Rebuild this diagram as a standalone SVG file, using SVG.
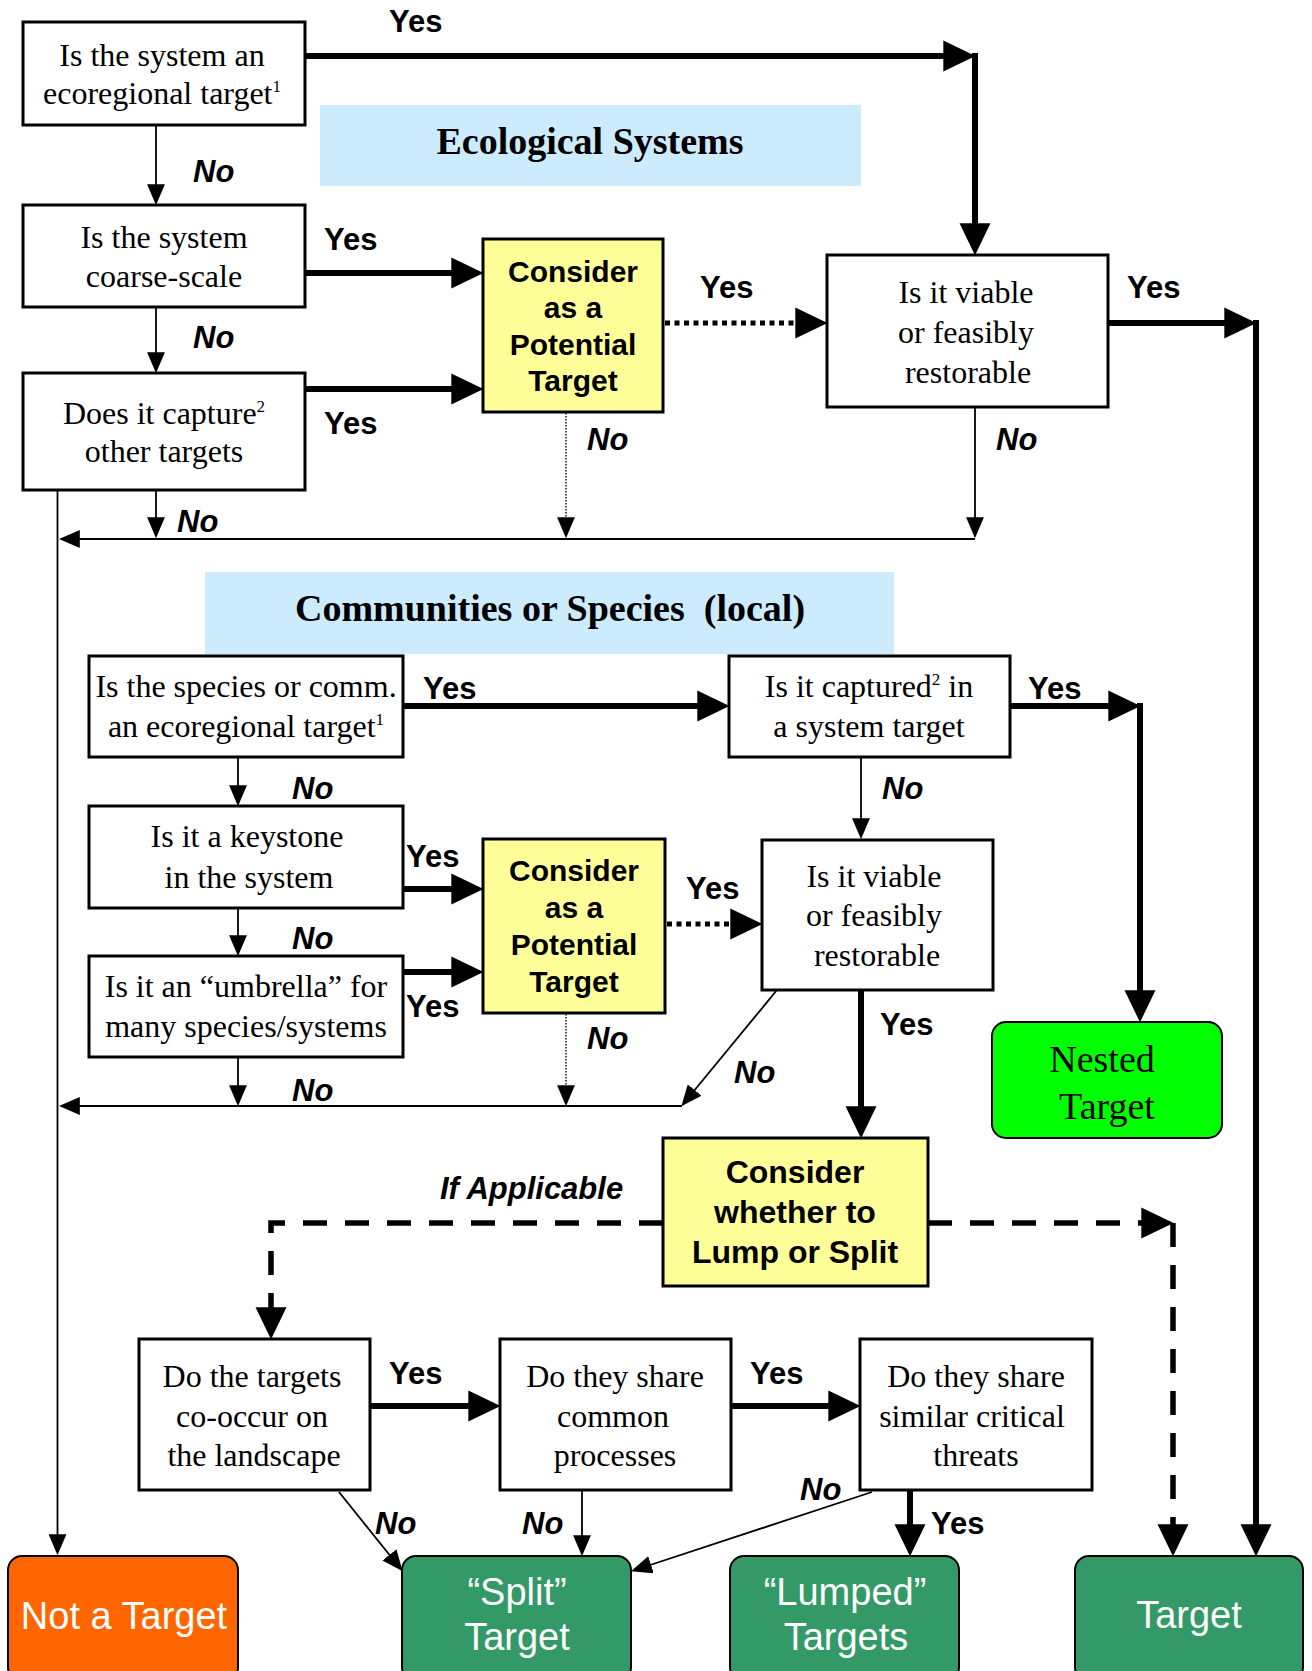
<svg xmlns="http://www.w3.org/2000/svg" width="1312" height="1671" viewBox="0 0 1312 1671">
<defs>
<style>
.box{fill:#fff;stroke:#000;stroke-width:3}
.yel{fill:#FFFF99;stroke:#000;stroke-width:3}
.title{fill:#CCEBFC;stroke:none}
.term{stroke:#000;stroke-width:2}
.q{font-family:"Liberation Serif","Times New Roman",serif;font-size:32px;fill:#000;text-anchor:middle}
.tt{font-family:"Liberation Serif","Times New Roman",serif;font-size:38px;font-weight:bold;fill:#000;text-anchor:middle}
.yt{font-family:"Liberation Sans",Arial,sans-serif;font-size:30px;font-weight:bold;fill:#000;text-anchor:middle}
.wt{font-family:"Liberation Sans",Arial,sans-serif;font-size:38px;fill:#fff;text-anchor:middle}
.yes{font-family:"Liberation Sans",Arial,sans-serif;font-size:31px;font-weight:bold;fill:#000}
.no{font-family:"Liberation Sans",Arial,sans-serif;font-size:31px;font-weight:bold;font-style:italic;fill:#000}
.thick{fill:none;stroke:#000;stroke-width:6;marker-end:url(#hb)}
.dot{fill:none;stroke:#000;stroke-width:5;stroke-dasharray:5 4.5;marker-end:url(#hb)}
.dash{fill:none;stroke:#000;stroke-width:5.5;stroke-dasharray:24 18;marker-end:url(#hb)}
.thin{fill:none;stroke:#000;stroke-width:1.8;marker-end:url(#hs)}
.tdot{fill:none;stroke:#000;stroke-width:1.4;stroke-dasharray:1.5 1.5;marker-end:url(#hs)}
</style>
<marker id="hb" markerUnits="userSpaceOnUse" markerWidth="32" markerHeight="32" viewBox="0 0 31 30" refX="21" refY="15" orient="auto">
<path d="M0,0 L31,15 L0,30 z" fill="#000"/>
</marker>
<marker id="hs" markerUnits="userSpaceOnUse" markerWidth="21" markerHeight="18" viewBox="0 0 20 17" refX="16" refY="8.5" orient="auto">
<path d="M0,0 L20,8.5 L0,17 z" fill="#000"/>
</marker>
</defs>

<g id="title-ecological">
<rect class="title" x="320" y="105" width="541" height="81"/>
<text class="tt" x="590" y="154">Ecological Systems</text>
</g>
<g id="title-communities">
<rect class="title" x="205" y="572" width="689" height="82"/>
<text class="tt" x="550" y="621">Communities or Species&#160; (local)</text>
</g>

<g id="connectors">
<path class="thick" d="M305,56 H965"/>
<path class="thick" d="M975,53 V245"/>
<path class="thick" d="M305,273 H473"/>
<path class="thick" d="M305,389 H473"/>
<path class="thick" d="M1108,323 H1246"/>
<path class="thick" d="M1256,320 V1546"/>
<path class="thick" d="M403,706 H719"/>
<path class="thick" d="M1010,706 H1130"/>
<path class="thick" d="M1140,703 V1012"/>
<path class="thick" d="M403,889 H473"/>
<path class="thick" d="M403,972 H473"/>
<path class="thick" d="M861,990 V1128"/>
<path class="thick" d="M370,1406 H490"/>
<path class="thick" d="M731,1406 H850"/>
<path class="thick" d="M910,1490 V1546"/>
<path class="dot" d="M665,323 H817"/>
<path class="dot" d="M667,924 H752"/>
<path class="dash" d="M663,1223 H271 V1329"/>
<path class="dash" d="M928,1223 H1163"/>
<path class="dash" d="M1173,1223 V1546"/>
<path class="thin" d="M156,125 V201"/>
<path class="thin" d="M156,307 V369"/>
<path class="thin" d="M156,490 V534"/>
<path class="thin" d="M975,407 V534"/>
<path class="thin" d="M975,539 H63"/>
<path class="thin" d="M57.5,490 V1551"/>
<path class="thin" d="M238,757 V802"/>
<path class="thin" d="M238,908 V952"/>
<path class="thin" d="M238,1057 V1102"/>
<path class="thin" d="M861,757 V835"/>
<path class="thin" d="M777,990 L684,1103"/>
<path class="thin" d="M682,1106 H63"/>
<path class="thin" d="M582,1490 V1552"/>
<path class="thin" d="M339,1492 L400,1568"/>
<path class="thin" d="M872,1492 L635,1570"/>
<path class="tdot" d="M566,413 V534"/>
<path class="tdot" d="M566,1014 V1102"/>
</g>

<g id="labels">
<text class="yes" x="389" y="32">Yes</text>
<text class="no" x="193" y="182">No</text>
<text class="no" x="193" y="348">No</text>
<text class="yes" x="324" y="250">Yes</text>
<text class="yes" x="324" y="434">Yes</text>
<text class="no" x="177" y="532">No</text>
<text class="no" x="587" y="450">No</text>
<text class="yes" x="700" y="298">Yes</text>
<text class="yes" x="1127" y="298">Yes</text>
<text class="no" x="996" y="450">No</text>
<text class="yes" x="423" y="699">Yes</text>
<text class="no" x="292" y="799">No</text>
<text class="yes" x="1028" y="699">Yes</text>
<text class="no" x="882" y="799">No</text>
<text class="yes" x="406" y="867">Yes</text>
<text class="no" x="292" y="949">No</text>
<text class="yes" x="406" y="1017">Yes</text>
<text class="yes" x="686" y="899">Yes</text>
<text class="no" x="292" y="1101">No</text>
<text class="no" x="587" y="1049">No</text>
<text class="no" x="734" y="1083">No</text>
<text class="yes" x="880" y="1035">Yes</text>
<text class="no" x="440" y="1199">If Applicable</text>
<text class="yes" x="389" y="1384">Yes</text>
<text class="yes" x="750" y="1384">Yes</text>
<text class="no" x="800" y="1500">No</text>
<text class="yes" x="931" y="1534">Yes</text>
<text class="no" x="375" y="1534">No</text>
<text class="no" x="522" y="1534">No</text>
</g>

<g id="n-eco-target">
<rect class="box" x="23" y="22" width="282" height="103"/>
<text class="q" x="162" y="66">Is the system an</text>
<text class="q" x="162" y="104">ecoregional target<tspan font-size="17" dy="-12">1</tspan></text>
</g>
<g id="n-coarse">
<rect class="box" x="23" y="205" width="282" height="102"/>
<text class="q" x="164" y="248">Is the system</text>
<text class="q" x="164" y="287">coarse-scale</text>
</g>
<g id="n-capture">
<rect class="box" x="23" y="373" width="282" height="117"/>
<text class="q" x="164" y="424">Does it capture<tspan font-size="17" dy="-12">2</tspan></text>
<text class="q" x="164" y="462">other targets</text>
</g>
<g id="n-potential-1">
<rect class="yel" x="483" y="239" width="180" height="173"/>
<text class="yt" x="573" y="282">Consider</text>
<text class="yt" x="573" y="318">as a</text>
<text class="yt" x="573" y="355">Potential</text>
<text class="yt" x="573" y="391">Target</text>
</g>
<g id="n-viable-1">
<rect class="box" x="827" y="255" width="281" height="152"/>
<text class="q" x="966" y="303">Is it viable</text>
<text class="q" x="966" y="343">or feasibly</text>
<text class="q" x="968" y="383">restorable</text>
</g>
<g id="n-species">
<rect class="box" x="89" y="656" width="314" height="101"/>
<text class="q" x="246" y="697">Is the species or comm.</text>
<text class="q" x="246" y="737">an ecoregional target<tspan font-size="17" dy="-12">1</tspan></text>
</g>
<g id="n-captured">
<rect class="box" x="729" y="656" width="281" height="101"/>
<text class="q" x="869" y="697">Is it captured<tspan font-size="17" dy="-12">2</tspan><tspan dy="12"> in</tspan></text>
<text class="q" x="869" y="737">a system target</text>
</g>
<g id="n-keystone">
<rect class="box" x="89" y="806" width="314" height="102"/>
<text class="q" x="247" y="847">Is it a keystone</text>
<text class="q" x="249" y="888">in the system</text>
</g>
<g id="n-umbrella">
<rect class="box" x="89" y="956" width="314" height="101"/>
<text class="q" x="246" y="997">Is it an “umbrella” for</text>
<text class="q" x="246" y="1037">many species/systems</text>
</g>
<g id="n-potential-2">
<rect class="yel" x="483" y="839" width="182" height="174"/>
<text class="yt" x="574" y="881">Consider</text>
<text class="yt" x="574" y="918">as a</text>
<text class="yt" x="574" y="955">Potential</text>
<text class="yt" x="574" y="992">Target</text>
</g>
<g id="n-viable-2">
<rect class="box" x="762" y="840" width="231" height="150"/>
<text class="q" x="874" y="887">Is it viable</text>
<text class="q" x="874" y="926">or feasibly</text>
<text class="q" x="877" y="966">restorable</text>
</g>
<g id="n-nested">
<rect class="term" fill="#00FF00" x="992" y="1022" width="230" height="116" rx="14"/>
<text class="q" style="font-size:38px" x="1102" y="1072">Nested</text>
<text class="q" style="font-size:38px" x="1107" y="1119">Target</text>
</g>
<g id="n-lump">
<rect class="yel" x="663" y="1138" width="265" height="148"/>
<text class="yt" style="font-size:32px" x="795" y="1183">Consider</text>
<text class="yt" style="font-size:32px" x="795" y="1223">whether to</text>
<text class="yt" style="font-size:32px" x="795" y="1263">Lump or Split</text>
</g>
<g id="n-cooccur">
<rect class="box" x="139" y="1339" width="231" height="151"/>
<text class="q" x="252" y="1387">Do the targets</text>
<text class="q" x="252" y="1427">co-occur on</text>
<text class="q" x="254" y="1466">the landscape</text>
</g>
<g id="n-processes">
<rect class="box" x="500" y="1339" width="231" height="151"/>
<text class="q" x="615" y="1387">Do they share</text>
<text class="q" x="613" y="1427">common</text>
<text class="q" x="615" y="1466">processes</text>
</g>
<g id="n-threats">
<rect class="box" x="860" y="1339" width="232" height="151"/>
<text class="q" x="976" y="1387">Do they share</text>
<text class="q" x="972" y="1427">similar critical</text>
<text class="q" x="976" y="1466">threats</text>
</g>
<g id="n-not-target">
<rect class="term" fill="#FF6600" x="8" y="1556" width="230" height="125" rx="14"/>
<text class="wt" x="124" y="1629">Not a Target</text>
</g>
<g id="n-split">
<rect class="term" fill="#339966" x="402" y="1556" width="229" height="125" rx="14"/>
<text class="wt" x="517" y="1605">“Split”</text>
<text class="wt" x="517" y="1650">Target</text>
</g>
<g id="n-lumped">
<rect class="term" fill="#339966" x="730" y="1556" width="229" height="125" rx="14"/>
<text class="wt" x="845" y="1605">“Lumped”</text>
<text class="wt" x="846" y="1650">Targets</text>
</g>
<g id="n-target">
<rect class="term" fill="#339966" x="1075" y="1556" width="228" height="125" rx="14"/>
<text class="wt" x="1189" y="1628">Target</text>
</g>
</svg>
